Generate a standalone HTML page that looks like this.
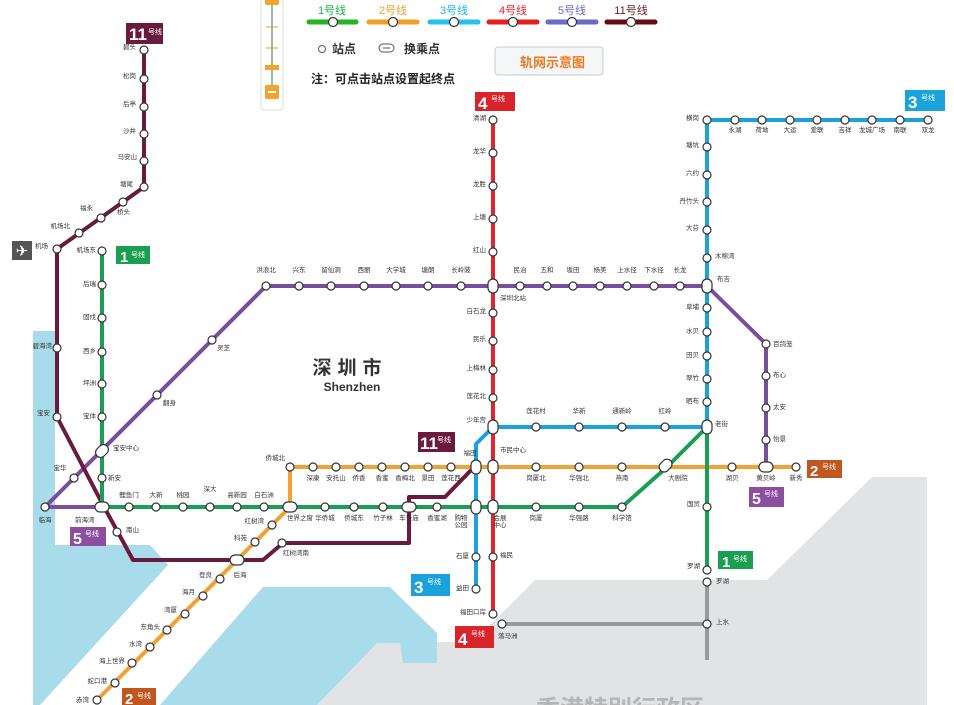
<!DOCTYPE html>
<html><head><meta charset="utf-8"><style>
html,body{margin:0;padding:0;background:#fff;}
svg{display:block;font-family:"Liberation Sans","Noto Sans CJK SC",sans-serif;}
.s{fill:#fff;stroke:#333;stroke-width:1.2}
.x{fill:#fff;stroke:#333;stroke-width:1.2}
.n{font-size:6.5px;fill:#333}
.l{fill:none;stroke-width:4;stroke-linejoin:round}
</style></head><body>
<svg width="954" height="705" viewBox="0 0 954 705" xmlns="http://www.w3.org/2000/svg">
<!-- HK gray -->
<polygon points="535,580 767,580 872,477 927,477 927,705 317,705 377,642 473,642" fill="#e2e3e4"/>
<!-- water -->
<polygon points="33,331 55,331 55,545 150,545 168,565 40,705 33,705" fill="#a9dcea"/>
<polygon points="263,587 390,587 437,633 437,663 403,663 400,643 377,643 317,705 160,705" fill="#a9dcea"/>
<text x="620" y="717" font-size="24" font-weight="bold" fill="#b5b5b5" text-anchor="middle">香港特别行政区</text>

<!-- HK lines -->
<path d="M707,580 V660" stroke="#999" stroke-width="4" fill="none"/>
<path d="M502,624 H707" stroke="#999" stroke-width="4" fill="none"/>

<!-- Line 5 purple -->
<path class="l" stroke="#7a4e9f" d="M102,507 H45 L266,286 H707 L766,344 V467"/>
<!-- Line 11 maroon -->
<path class="l" stroke="#6b1a3d" d="M144,50 V187 L57,249 V417 L103,505 L133,560 H263 L283,543 H409 V497 H445 L476,465"/>
<!-- Line 2 orange -->
<path class="l" stroke="#f0a234" d="M97,700 L290,507 V467 H796"/>
<!-- Line 3 blue -->
<path class="l" stroke="#1ba1dc" d="M928,120 H707 V427 H493 L476,444 V589"/>
<!-- Line 4 red -->
<path class="l" stroke="#e1262b" d="M493,120 V614"/>
<!-- Line 1 green -->
<path class="l" stroke="#1a9f52" d="M102,251 V507 H622 L667,467 L707,427 V570"/>

<!-- Line labels -->
<rect x="126" y="23" width="37" height="21" fill="#6b1a3d"/><text x="129" y="40" font-size="17" font-weight="bold" fill="#fff">11</text><text x="148" y="34" font-size="7" fill="#fff">号线</text>
<rect x="116" y="246" width="34" height="18" fill="#1a9f52"/><text x="120" y="262" font-size="15" font-weight="bold" fill="#fff">1</text><text x="131" y="257" font-size="7" fill="#fff">号线</text>
<rect x="718" y="551" width="35" height="18" fill="#1a9f52"/><text x="722" y="567" font-size="15" font-weight="bold" fill="#fff">1</text><text x="733" y="561" font-size="7" fill="#fff">号线</text>
<rect x="475" y="92" width="40" height="19" fill="#d8242a"/><text x="478" y="109" font-size="17" font-weight="bold" fill="#fff">4</text><text x="491" y="101" font-size="7" fill="#fff">号线</text>
<rect x="455" y="626" width="39" height="22" fill="#d8242a"/><text x="458" y="645" font-size="17" font-weight="bold" fill="#fff">4</text><text x="471" y="636" font-size="7" fill="#fff">号线</text>
<rect x="905" y="90" width="40" height="21" fill="#1ba1dc"/><text x="908" y="108" font-size="17" font-weight="bold" fill="#fff">3</text><text x="921" y="100" font-size="7" fill="#fff">号线</text>
<rect x="411" y="574" width="39" height="22" fill="#1ba1dc"/><text x="414" y="593" font-size="17" font-weight="bold" fill="#fff">3</text><text x="427" y="584" font-size="7" fill="#fff">号线</text>
<rect x="418" y="432" width="37" height="20" fill="#6b1a3d"/><text x="420" y="449" font-size="17" font-weight="bold" fill="#fff">11</text><text x="437" y="442" font-size="7" fill="#fff">号线</text>
<rect x="70" y="527" width="36" height="19" fill="#8c4ea0"/><text x="73" y="544" font-size="16" font-weight="bold" fill="#fff">5</text><text x="85" y="536" font-size="7" fill="#fff">号线</text>
<rect x="749" y="487" width="35" height="20" fill="#8c4ea0"/><text x="752" y="504" font-size="16" font-weight="bold" fill="#fff">5</text><text x="764" y="496" font-size="7" fill="#fff">号线</text>
<rect x="807" y="460" width="35" height="18" fill="#c2561f"/><text x="810" y="476" font-size="15" font-weight="bold" fill="#fff">2</text><text x="822" y="469" font-size="7" fill="#fff">号线</text>
<rect x="122" y="688" width="34" height="17" fill="#c2561f"/><text x="125" y="704" font-size="15" font-weight="bold" fill="#fff">2</text><text x="137" y="698" font-size="7" fill="#fff">号线</text>

<!-- airport icon -->
<rect x="12" y="241" width="20" height="19" fill="#555"/><text x="22" y="256" font-size="15" fill="#fff" text-anchor="middle">✈</text>

<!-- City name -->
<text x="350" y="374" font-size="19" font-weight="bold" fill="#333" text-anchor="middle" letter-spacing="6">深圳市</text>
<text x="352" y="391" font-size="12" font-weight="bold" fill="#333" text-anchor="middle">Shenzhen</text>

<!-- stations: line 11 -->
<g>
<circle class="s" cx="144" cy="50" r="4"/><circle class="s" cx="144" cy="79" r="4"/><circle class="s" cx="144" cy="107" r="4"/><circle class="s" cx="144" cy="134" r="4"/><circle class="s" cx="144" cy="161" r="4"/><circle class="s" cx="144" cy="187" r="4"/>
<circle class="s" cx="123" cy="202" r="4"/><circle class="s" cx="101" cy="218" r="4"/><circle class="s" cx="79" cy="233" r="4"/><circle class="s" cx="57" cy="249" r="4"/><circle class="s" cx="57" cy="348" r="4"/><circle class="s" cx="57" cy="417" r="4"/><circle class="s" cx="117" cy="532" r="4"/><circle class="s" cx="282" cy="543" r="4"/>
</g>
<g class="n" text-anchor="end">
<text x="136" y="49">碧头</text><text x="136" y="78">松岗</text><text x="136" y="106">后亭</text><text x="136" y="133">沙井</text><text x="137" y="159">马安山</text><text x="133" y="186">塘尾</text><text x="93" y="210">福永</text><text x="70" y="228">机场北</text><text x="52" y="348">碧海湾</text><text x="50" y="415">宝安</text>
</g>
<g class="n"><text x="117" y="214">桥头</text><text x="35" y="248">机场</text><text x="126" y="532">南山</text><text x="283" y="555">红树湾南</text></g>

<!-- line 1 -->
<g>
<circle class="s" cx="102" cy="251" r="4"/><circle class="s" cx="102" cy="285" r="4"/><circle class="s" cx="102" cy="318" r="4"/><circle class="s" cx="102" cy="352" r="4"/><circle class="s" cx="102" cy="384" r="4"/><circle class="s" cx="102" cy="417" r="4"/><circle class="s" cx="102" cy="478" r="4"/>
<circle class="s" cx="129" cy="507" r="4"/><circle class="s" cx="156" cy="507" r="4"/><circle class="s" cx="183" cy="507" r="4"/><circle class="s" cx="210" cy="507" r="4"/><circle class="s" cx="237" cy="507" r="4"/><circle class="s" cx="264" cy="507" r="4"/>
<circle class="s" cx="325" cy="507" r="4"/><circle class="s" cx="354" cy="507" r="4"/><circle class="s" cx="383" cy="507" r="4"/><circle class="s" cx="437" cy="507" r="4"/>
<circle class="s" cx="536" cy="507" r="4"/><circle class="s" cx="579" cy="507" r="4"/><circle class="s" cx="622" cy="507" r="4"/>
<circle class="s" cx="707" cy="507" r="4"/><circle class="s" cx="707" cy="570" r="4"/>
</g>
<g class="n" text-anchor="end">
<text x="96" y="252">机场东</text><text x="96" y="286">后瑞</text><text x="96" y="319">固戍</text><text x="96" y="353">西乡</text><text x="96" y="385">坪洲</text><text x="96" y="418">宝体</text><text x="700" y="506">国贸</text><text x="700" y="568">罗湖</text>
</g>
<g class="n" text-anchor="middle">
<text x="129" y="497">鲤鱼门</text><text x="156" y="497">大新</text><text x="183" y="497">桃园</text><text x="210" y="491">深大</text><text x="237" y="497">高新园</text><text x="264" y="497">白石洲</text>
<text x="300" y="520">世界之窗</text><text x="325" y="520">华侨城</text><text x="354" y="520">侨城东</text><text x="383" y="520">竹子林</text><text x="409" y="520">车公庙</text><text x="437" y="520">香蜜湖</text><text x="461" y="520">购物</text><text x="461" y="527">公园</text>
<text x="500" y="520">会展</text><text x="500" y="527">中心</text><text x="536" y="520">岗厦</text><text x="579" y="520">华强路</text><text x="622" y="520">科学馆</text>
</g>
<g class="n"><text x="108" y="480">新安</text><text x="113" y="450">宝安中心</text><text x="75" y="522">前海湾</text></g>

<!-- line 2 -->
<g>
<circle class="s" cx="97" cy="700" r="4"/><circle class="s" cx="115" cy="683" r="4"/><circle class="s" cx="132" cy="663" r="4"/><circle class="s" cx="150" cy="647" r="4"/><circle class="s" cx="167" cy="630" r="4"/><circle class="s" cx="185" cy="614" r="4"/><circle class="s" cx="203" cy="596" r="4"/><circle class="s" cx="220" cy="579" r="4"/><circle class="s" cx="255" cy="542" r="4"/><circle class="s" cx="272" cy="525" r="4"/>
<circle class="s" cx="290" cy="467" r="4"/><circle class="s" cx="313" cy="467" r="4"/><circle class="s" cx="336" cy="467" r="4"/><circle class="s" cx="359" cy="467" r="4"/><circle class="s" cx="382" cy="467" r="4"/><circle class="s" cx="405" cy="467" r="4"/><circle class="s" cx="428" cy="467" r="4"/><circle class="s" cx="451" cy="467" r="4"/>
<circle class="s" cx="536" cy="467" r="4"/><circle class="s" cx="579" cy="467" r="4"/><circle class="s" cx="622" cy="467" r="4"/><circle class="s" cx="732" cy="467" r="4"/><circle class="s" cx="796" cy="467" r="4"/>
</g>
<g class="n" text-anchor="end">
<text x="89" y="702">赤湾</text><text x="107" y="683">蛇口港</text><text x="125" y="663">海上世界</text><text x="142" y="646">水湾</text><text x="160" y="629">东角头</text><text x="177" y="612">湾厦</text><text x="195" y="594">海月</text><text x="212" y="577">登良</text><text x="247" y="540">科苑</text><text x="264" y="523">红树湾</text><text x="285" y="460">侨城北</text>
</g>
<g class="n" text-anchor="middle">
<text x="313" y="480">深康</text><text x="336" y="480">安托山</text><text x="359" y="480">侨香</text><text x="382" y="480">香蜜</text><text x="405" y="480">香梅北</text><text x="428" y="480">景田</text><text x="451" y="480">莲花西</text><text x="470" y="455">福田</text>
<text x="536" y="480">岗厦北</text><text x="579" y="480">华强北</text><text x="622" y="480">燕南</text><text x="678" y="480">大剧院</text><text x="732" y="480">湖贝</text><text x="766" y="480">黄贝岭</text><text x="796" y="480">新秀</text><text x="240" y="577">后海</text>
</g>
<g class="n"><text x="500" y="452">市民中心</text></g>

<!-- line 3 -->
<g>
<circle class="s" cx="707" cy="120" r="4"/><circle class="s" cx="735" cy="120" r="4"/><circle class="s" cx="762" cy="120" r="4"/><circle class="s" cx="790" cy="120" r="4"/><circle class="s" cx="817" cy="120" r="4"/><circle class="s" cx="845" cy="120" r="4"/><circle class="s" cx="872" cy="120" r="4"/><circle class="s" cx="900" cy="120" r="4"/><circle class="s" cx="928" cy="120" r="4"/>
<circle class="s" cx="707" cy="147" r="4"/><circle class="s" cx="707" cy="175" r="4"/><circle class="s" cx="707" cy="202" r="4"/><circle class="s" cx="707" cy="230" r="4"/><circle class="s" cx="707" cy="258" r="4"/><circle class="s" cx="707" cy="308" r="4"/><circle class="s" cx="707" cy="332" r="4"/><circle class="s" cx="707" cy="356" r="4"/><circle class="s" cx="707" cy="379" r="4"/><circle class="s" cx="707" cy="402" r="4"/>
<circle class="s" cx="665" cy="427" r="4"/><circle class="s" cx="622" cy="427" r="4"/><circle class="s" cx="579" cy="427" r="4"/><circle class="s" cx="536" cy="427" r="4"/><circle class="s" cx="476" cy="557" r="4"/><circle class="s" cx="476" cy="589" r="4"/>
</g>
<g class="n" text-anchor="middle">
<text x="735" y="132">永湖</text><text x="762" y="132">荷坳</text><text x="790" y="132">大运</text><text x="817" y="132">爱联</text><text x="845" y="132">吉祥</text><text x="872" y="132">龙城广场</text><text x="900" y="132">南联</text><text x="928" y="132">双龙</text>
<text x="665" y="413">红岭</text><text x="622" y="413">通新岭</text><text x="579" y="413">华新</text><text x="536" y="413">莲花村</text>
</g>
<g class="n" text-anchor="end">
<text x="699" y="120">横岗</text><text x="699" y="147">塘坑</text><text x="699" y="175">六约</text><text x="699" y="203">丹竹头</text><text x="699" y="230">大芬</text><text x="699" y="309">草埔</text><text x="699" y="333">水贝</text><text x="699" y="357">田贝</text><text x="699" y="380">翠竹</text><text x="699" y="403">晒布</text><text x="469" y="558">石厦</text><text x="469" y="590">益田</text><text x="486" y="422">少年宫</text>
</g>
<g class="n"><text x="715" y="258">木棉湾</text><text x="717" y="281">布吉</text><text x="715" y="426">老街</text></g>

<!-- line 4 -->
<g>
<circle class="s" cx="493" cy="120" r="4"/><circle class="s" cx="493" cy="153" r="4"/><circle class="s" cx="493" cy="186" r="4"/><circle class="s" cx="493" cy="219" r="4"/><circle class="s" cx="493" cy="252" r="4"/><circle class="s" cx="493" cy="313" r="4"/><circle class="s" cx="493" cy="341" r="4"/><circle class="s" cx="493" cy="370" r="4"/><circle class="s" cx="493" cy="398" r="4"/><circle class="s" cx="493" cy="557" r="4"/><circle class="s" cx="493" cy="614" r="4"/>
</g>
<g class="n" text-anchor="end">
<text x="486" y="120">清湖</text><text x="486" y="153">龙华</text><text x="486" y="186">龙胜</text><text x="486" y="219">上塘</text><text x="486" y="252">红山</text><text x="486" y="313">白石龙</text><text x="486" y="341">民乐</text><text x="486" y="370">上梅林</text><text x="486" y="398">莲花北</text><text x="486" y="614">福田口岸</text>
</g>
<g class="n"><text x="500" y="557">福民</text><text x="500" y="300">深圳北站</text></g>

<!-- line 5 -->
<g>
<circle class="s" cx="45" cy="507" r="4"/><circle class="s" cx="74" cy="478" r="4"/><circle class="s" cx="157" cy="395" r="4"/><circle class="s" cx="212" cy="340" r="4"/><circle class="s" cx="266" cy="286" r="4"/>
<circle class="s" cx="299" cy="286" r="4"/><circle class="s" cx="331" cy="286" r="4"/><circle class="s" cx="364" cy="286" r="4"/><circle class="s" cx="396" cy="286" r="4"/><circle class="s" cx="428" cy="286" r="4"/><circle class="s" cx="461" cy="286" r="4"/>
<circle class="s" cx="520" cy="286" r="4"/><circle class="s" cx="547" cy="286" r="4"/><circle class="s" cx="573" cy="286" r="4"/><circle class="s" cx="600" cy="286" r="4"/><circle class="s" cx="627" cy="286" r="4"/><circle class="s" cx="654" cy="286" r="4"/><circle class="s" cx="680" cy="286" r="4"/>
<circle class="s" cx="766" cy="344" r="4"/><circle class="s" cx="766" cy="376" r="4"/><circle class="s" cx="766" cy="408" r="4"/><circle class="s" cx="766" cy="440" r="4"/>
</g>
<g class="n" text-anchor="middle">
<text x="266" y="272">洪浪北</text><text x="299" y="272">兴东</text><text x="331" y="272">留仙洞</text><text x="364" y="272">西丽</text><text x="396" y="272">大学城</text><text x="428" y="272">塘朗</text><text x="461" y="272">长岭陂</text>
<text x="520" y="272">民治</text><text x="547" y="272">五和</text><text x="573" y="272">坂田</text><text x="600" y="272">杨美</text><text x="627" y="272">上水径</text><text x="654" y="272">下水径</text><text x="680" y="272">长龙</text>
<text x="45" y="522">临海</text><text x="60" y="470">宝华</text>
</g>
<g class="n"><text x="163" y="405">翻身</text><text x="217" y="350">灵芝</text><text x="773" y="346">百鸽笼</text><text x="773" y="377">布心</text><text x="773" y="409">太安</text><text x="773" y="441">怡景</text></g>

<!-- HK stations -->
<circle class="s" cx="707" cy="582" r="4"/><circle class="s" cx="707" cy="624" r="4"/><circle class="s" cx="502" cy="624" r="4"/>
<g class="n"><text x="716" y="583">罗湖</text><text x="716" y="624">上水</text><text x="498" y="638">落马洲</text></g>

<!-- interchanges -->
<g class="x">
<rect x="97" y="444" width="10" height="14" rx="5" transform="rotate(45 102 451)"/>
<rect x="95" y="502" width="14" height="10" rx="5"/>
<rect x="283" y="502" width="14" height="10" rx="5"/>
<rect x="230" y="555" width="14" height="10" rx="5"/>
<rect x="402" y="502" width="14" height="10" rx="5"/>
<rect x="471" y="500" width="10" height="14" rx="5"/>
<rect x="488" y="500" width="10" height="14" rx="5"/>
<rect x="471" y="460" width="10" height="14" rx="5"/>
<rect x="488" y="460" width="10" height="14" rx="5"/>
<rect x="488" y="420" width="10" height="14" rx="5"/>
<rect x="488" y="279" width="10" height="14" rx="5"/>
<rect x="702" y="279" width="10" height="14" rx="5"/>
<rect x="702" y="420" width="10" height="14" rx="5"/>
<rect x="660" y="460" width="14" height="10" rx="5" transform="rotate(-45 667 467)"/>
<rect x="759" y="462" width="14" height="10" rx="5"/>
</g>

<!-- Top controls -->
<rect x="261" y="-5" width="22" height="115" rx="3" fill="#fff" stroke="#ddd"/>
<line x1="272" y1="5" x2="272" y2="88" stroke="#3a7a3a" stroke-width="1"/>
<rect x="265" y="-4" width="14" height="9" rx="2" fill="#f3a42c"/>
<rect x="265" y="65" width="14" height="5" fill="#f3a42c"/>
<line x1="266" y1="27" x2="278" y2="27" stroke="#e3a030"/><line x1="266" y1="48" x2="278" y2="48" stroke="#e3a030"/>
<rect x="265" y="85" width="14" height="14" rx="2" fill="#f3a42c"/><rect x="268" y="91" width="8" height="2" fill="#fff"/>

<g font-size="11" text-anchor="middle">
<text x="332" y="14" fill="#22b04a">1号线</text><text x="393" y="14" fill="#f0a234">2号线</text><text x="454" y="14" fill="#1bb6e8">3号线</text><text x="513" y="14" fill="#e1262b">4号线</text><text x="572" y="14" fill="#6a6ac0">5号线</text><text x="631" y="14" fill="#6b1a1a">11号线</text>
</g>
<g stroke-width="5" stroke-linecap="round">
<line x1="309" y1="22" x2="356" y2="22" stroke="#22b422"/><line x1="369" y1="22" x2="417" y2="22" stroke="#f0a020"/><line x1="430" y1="22" x2="478" y2="22" stroke="#25c0ee"/><line x1="489" y1="22" x2="537" y2="22" stroke="#e81c1c"/><line x1="548" y1="22" x2="596" y2="22" stroke="#6a6ac8"/><line x1="607" y1="22" x2="655" y2="22" stroke="#6a0a10"/>
</g>
<g class="s"><circle cx="333" cy="22" r="4.5"/><circle cx="393" cy="22" r="4.5"/><circle cx="454" cy="22" r="4.5"/><circle cx="513" cy="22" r="4.5"/><circle cx="572" cy="22" r="4.5"/><circle cx="631" cy="22" r="4.5"/></g>
<circle cx="322" cy="49" r="3.5" fill="#fff" stroke="#555"/>
<text x="332" y="53" font-size="12" fill="#333" font-weight="bold">站点</text>
<rect x="379" y="44" width="15" height="8" rx="4" fill="#fff" stroke="#555"/><line x1="383" y1="48" x2="390" y2="48" stroke="#555"/>
<text x="404" y="53" font-size="12" fill="#333" font-weight="bold">换乘点</text>
<text x="311" y="83" font-size="12" fill="#222" font-weight="bold">注：可点击站点设置起终点</text>
<rect x="495" y="47" width="108" height="28" rx="3" fill="#f4f6f8" stroke="#ccc"/>
<text x="520" y="67" font-size="13" font-weight="bold" fill="#f07a20">轨网示意图</text>
</svg>
</body></html>
